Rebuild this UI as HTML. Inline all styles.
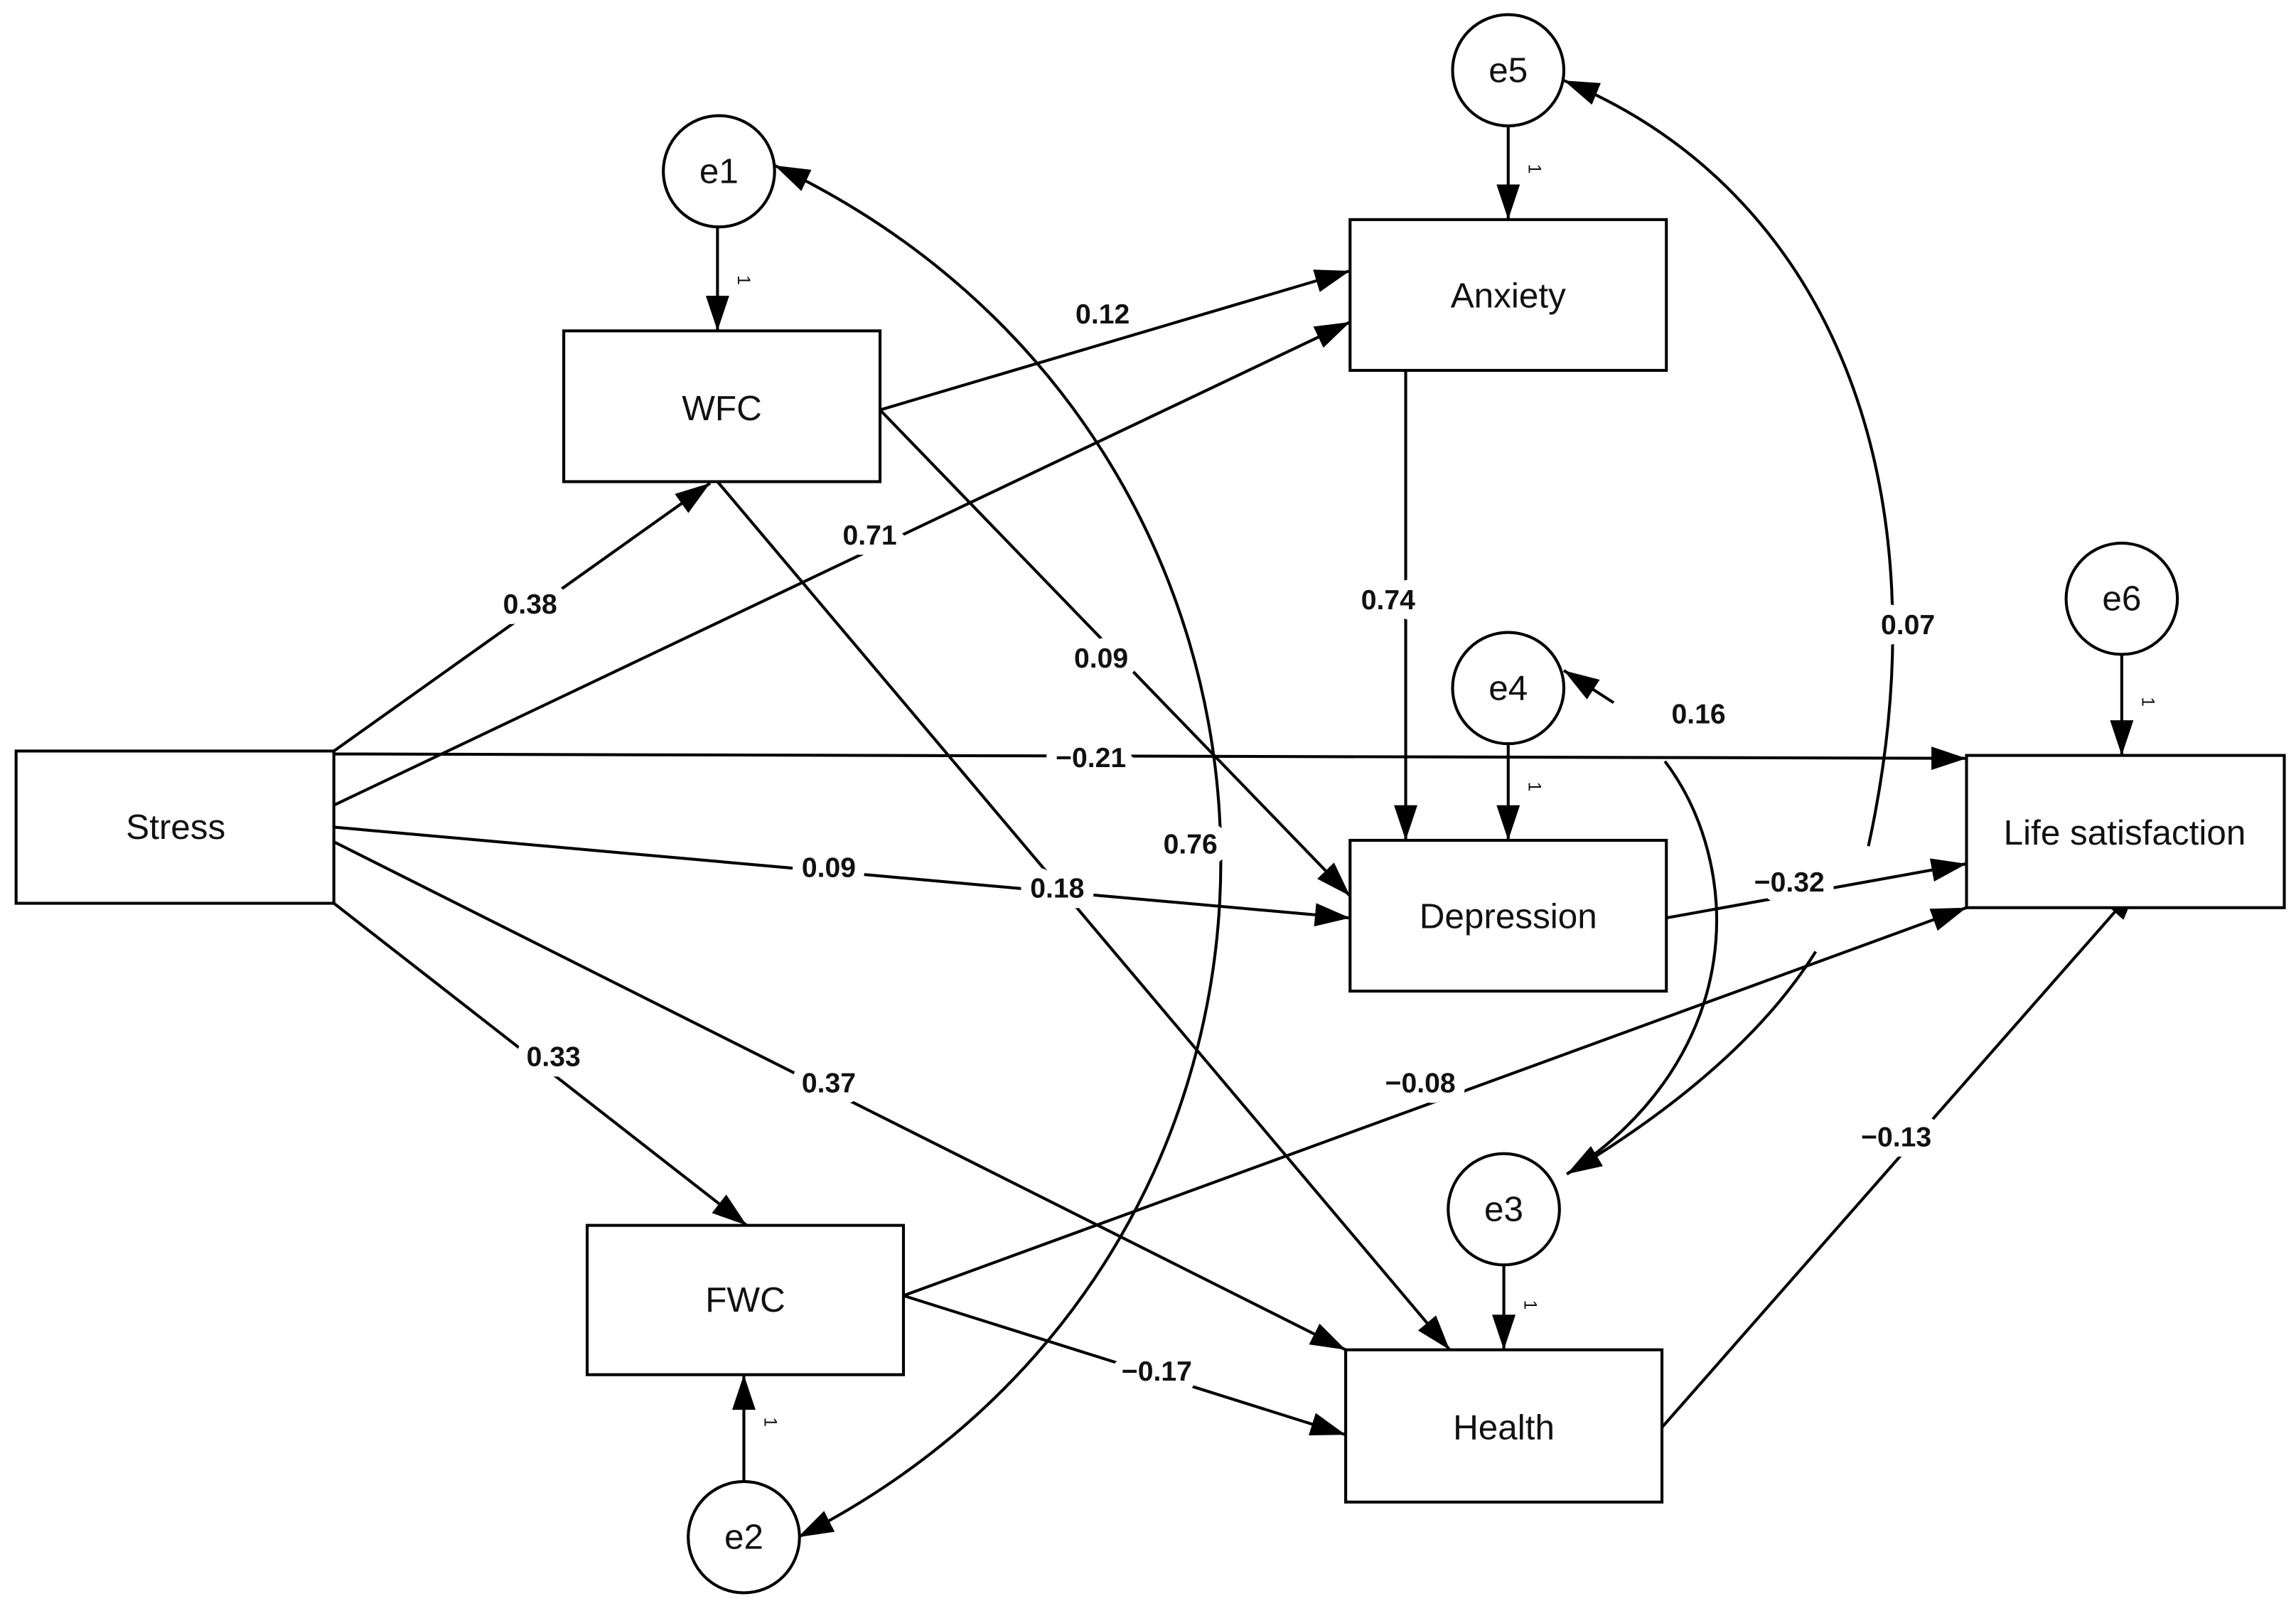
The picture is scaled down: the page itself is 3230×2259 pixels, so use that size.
<!DOCTYPE html>
<html><head><meta charset="utf-8"><style>
html,body{margin:0;padding:0;background:#fff;}
svg{display:block;}
.n{font-family:"Liberation Sans",Arial,sans-serif;font-size:24px;fill:#111;text-anchor:middle;dominant-baseline:central;}
.l{font-family:"Liberation Sans",Arial,sans-serif;font-size:19px;font-weight:bold;fill:#111;text-anchor:middle;dominant-baseline:central;stroke:#fff;stroke-width:14px;paint-order:stroke;stroke-linejoin:round;}
.one{font-family:"Liberation Sans",Arial,sans-serif;font-size:12px;fill:#111;}
</style></head><body>
<svg width="3230" height="2259" viewBox="0 0 1568 1097" preserveAspectRatio="none" xmlns="http://www.w3.org/2000/svg">
<defs>
<marker id="a" viewBox="0 0 24 16" refX="24" refY="8" markerWidth="24" markerHeight="16" markerUnits="userSpaceOnUse" orient="auto-start-reverse">
<path d="M0,0 L24,8 L0,16 Z" fill="#000"/></marker>
</defs>
<g stroke="#000" stroke-width="2" fill="none">
<!-- paths -->
<line x1="228" y1="513" x2="485" y2="330" marker-end="url(#a)"/>
<line x1="228" y1="550" x2="922" y2="220" marker-end="url(#a)"/>
<line x1="228" y1="515" x2="1343" y2="518" marker-end="url(#a)"/>
<line x1="228" y1="565" x2="922" y2="627" marker-end="url(#a)"/>
<line x1="228" y1="617" x2="510" y2="837" marker-end="url(#a)"/>
<line x1="228" y1="575" x2="919" y2="922" marker-end="url(#a)"/>
<line x1="601" y1="280" x2="922" y2="185" marker-end="url(#a)"/>
<line x1="601" y1="280" x2="922" y2="612" marker-end="url(#a)"/>
<line x1="490" y1="329" x2="990" y2="922" marker-end="url(#a)"/>
<line x1="960" y1="253" x2="960" y2="574" marker-end="url(#a)"/>
<line x1="1138" y1="627" x2="1343" y2="590" marker-end="url(#a)"/>
<line x1="617" y1="885" x2="1343" y2="620" marker-end="url(#a)"/>
<line x1="617" y1="885" x2="919" y2="980" marker-end="url(#a)"/>
<line x1="1135" y1="975" x2="1460" y2="605" marker-end="url(#a)"/>
<!-- error arrows -->
<line x1="490" y1="155" x2="490" y2="226" marker-end="url(#a)"/>
<line x1="1030" y1="86" x2="1030" y2="150" marker-end="url(#a)"/>
<line x1="1030" y1="508" x2="1030" y2="574" marker-end="url(#a)"/>
<line x1="1449" y1="447" x2="1449" y2="516" marker-end="url(#a)"/>
<line x1="1027" y1="864" x2="1027" y2="922" marker-end="url(#a)"/>
<line x1="508" y1="1012" x2="508" y2="939" marker-end="url(#a)"/>
<!-- covariances -->
<path d="M529,113 C925,300 940,850 545,1050" marker-start="url(#a)" marker-end="url(#a)"/>
<path d="M1068,55 C1250,130 1330,330 1276,578" marker-start="url(#a)"/>
<path d="M1240,650 Q1190,730 1070,802" marker-end="url(#a)"/>
<path d="M1068,458 L1102,480" marker-start="url(#a)"/>
<path d="M1137,520 C1190,590 1195,720 1070,802"/>
<!-- boxes -->
<rect x="11" y="513" width="217" height="104" fill="#fff"/>
<rect x="385" y="226" width="216" height="103" fill="#fff"/>
<rect x="401" y="837" width="216" height="102" fill="#fff"/>
<rect x="922" y="150" width="216" height="103" fill="#fff"/>
<rect x="922" y="574" width="216" height="103" fill="#fff"/>
<rect x="919" y="922" width="216" height="104" fill="#fff"/>
<rect x="1343" y="516" width="217" height="104" fill="#fff"/>
<circle cx="491" cy="117" r="38" fill="#fff"/>
<circle cx="1030" cy="48" r="38" fill="#fff"/>
<circle cx="1449" cy="409" r="38" fill="#fff"/>
<circle cx="1030" cy="470" r="38" fill="#fff"/>
<circle cx="1027" cy="826" r="38" fill="#fff"/>
<circle cx="508" cy="1050" r="38" fill="#fff"/>
</g>
<text class="n" x="120" y="565">Stress</text>
<text class="n" x="493" y="279">WFC</text>
<text class="n" x="509" y="888">FWC</text>
<text class="n" x="1030" y="202">Anxiety</text>
<text class="n" x="1030" y="626">Depression</text>
<text class="n" x="1027" y="975">Health</text>
<text class="n" x="1451" y="569">Life satisfaction</text>
<text class="n" x="491" y="117">e1</text>
<text class="n" x="1030" y="48">e5</text>
<text class="n" x="1449" y="409">e6</text>
<text class="n" x="1030" y="470">e4</text>
<text class="n" x="1027" y="826">e3</text>
<text class="n" x="508" y="1050">e2</text>
<text class="one" transform="translate(504,188) rotate(90)">1</text>
<text class="one" transform="translate(1044,112) rotate(90)">1</text>
<text class="one" transform="translate(1044,534) rotate(90)">1</text>
<text class="one" transform="translate(1463,476) rotate(90)">1</text>
<text class="one" transform="translate(1041,888) rotate(90)">1</text>
<text class="one" transform="translate(522,968) rotate(90)">1</text>
<text class="l" x="362" y="413">0.38</text>
<text class="l" x="594" y="366">0.71</text>
<text class="l" x="745" y="518">−0.21</text>
<text class="l" x="566" y="593">0.09</text>
<text class="l" x="722" y="607">0.18</text>
<text class="l" x="378" y="722">0.33</text>
<text class="l" x="566" y="740">0.37</text>
<text class="l" x="753" y="215">0.12</text>
<text class="l" x="752" y="450">0.09</text>
<text class="l" x="948" y="410">0.74</text>
<text class="l" x="813" y="577">0.76</text>
<text class="l" x="1303" y="427">0.07</text>
<text class="l" x="1160" y="488">0.16</text>
<text class="l" x="1222" y="603">−0.32</text>
<text class="l" x="970" y="740">−0.08</text>
<text class="l" x="790" y="937">−0.17</text>
<text class="l" x="1295" y="777">−0.13</text>
</svg>
</body></html>
